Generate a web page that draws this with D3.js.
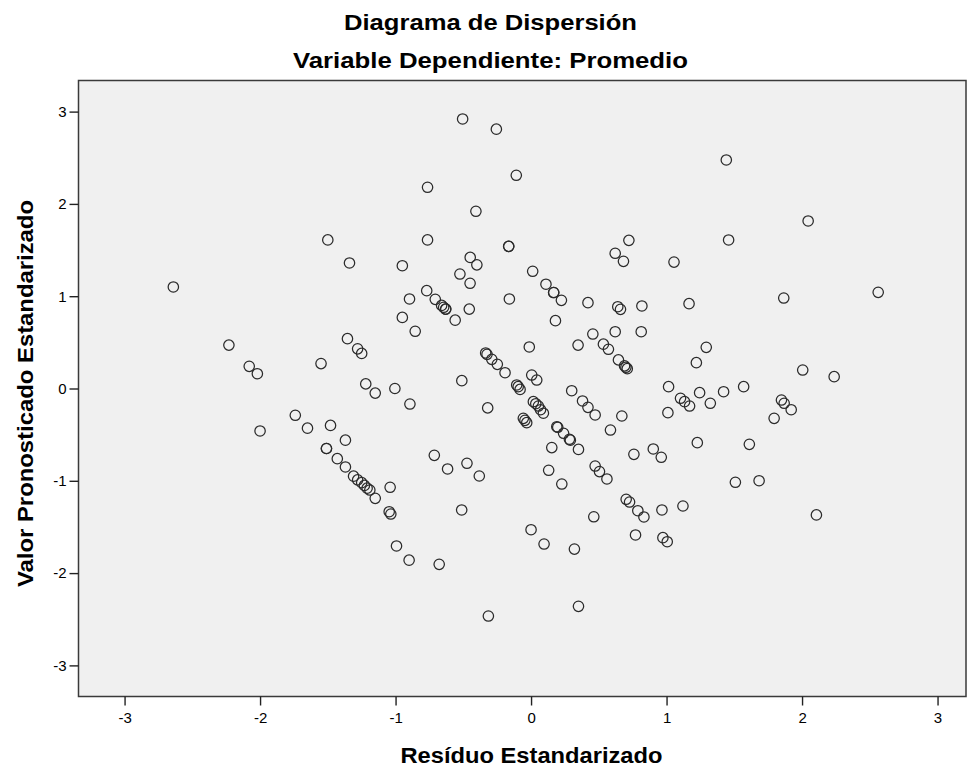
<!DOCTYPE html>
<html><head><meta charset="utf-8">
<script src="https://cdn.jsdelivr.net/npm/d3@7"></script>
<style>
body{margin:0;background:#fff;}
text{font-family:"Liberation Sans",Arial,sans-serif;fill:#000;}
</style>
</head><body>
<svg id="chart" width="971" height="770"></svg>
<script>
const title = "Diagrama de Dispersión";
const subtitle = "Variable Dependiente: Promedio";
const xLabel = "Resíduo Estandarizado";
const yLabel = "Valor Pronosticado Estandarizado";
const xTicks = [-3, -2, -1, 0, 1, 2, 3];
const yTicks = [-3, -2, -1, 0, 1, 2, 3];

// Standardized residual (x) and standardized predicted value (y), paired by index
const residuals = [
  -2.64,-2.23,-2.08,-2.02,-2.00,-1.74,-1.65,-1.55,-1.50,-1.48,-1.51,-1.51,-1.43,-1.37,-1.37,-1.34,-1.355,-1.28,-1.25,-1.31,
  -1.28,-1.25,-1.23,-1.21,-1.19,-1.15,-1.22,-1.15,
  -1.005,-0.894,-0.95,-0.897,-0.95,-0.855,-0.77,-0.707,-0.66,-0.645,-0.63,-0.63,-0.56,-0.764,-0.764,-0.525,-0.505,-0.511,
  -1.04,-1.047,-1.035,-0.993,-0.90,-0.678,-0.714,-0.616,-0.512,
  -0.449,-0.40,-0.45,-0.456,-0.407,-0.256,-0.109,-0.165,-0.165,-0.16,-0.473,-0.382,-0.32,-0.315,
  -0.335,-0.325,-0.29,-0.249,-0.192,-0.013,0.005,0.042,-0.106,-0.095,-0.081,0.017,0.035,0.054,0.07,0.091,-0.057,-0.045,-0.032,
  0.012,0.11,0.167,0.167,0.224,0.42,0.18,0.347,0.456,0.534,0.571,0.645,0.69,0.70,0.71,0.30,0.38,0.42,0.473,
  0.19,0.197,0.24,0.283,0.29,0.35,0.153,0.13,0.227,0.473,0.505,0.56,0.463,0.0,0.096,0.32,0.35,
  0.722,0.621,0.682,1.055,0.64,0.66,0.818,1.166,0.621,0.813,0.67,0.586,1.01,1.015,0.759,0.902,0.961,
  0.702,0.727,0.788,0.833,0.966,1.121,0.771,0.973,1.005,
  1.441,2.045,1.458,1.865,1.293,1.22,2.005,1.103,1.133,1.17,1.244,1.323,1.421,1.569,1.848,1.868,1.92,
  1.227,1.611,1.508,1.683,1.794,2.106,2.562,2.237
];
const predicted = [
  1.10,0.47,0.24,0.16,-0.46,-0.29,-0.43,0.27,1.61,-0.40,-0.65,-0.65,-0.76,-0.56,-0.85,1.36,0.54,0.43,0.38,-0.95,
  -0.99,-1.02,-1.05,-1.08,-1.10,-1.19,0.05,-0.05,
  0.0,-0.168,1.33,0.97,0.77,0.62,1.06,0.966,0.90,0.88,0.86,0.86,0.74,2.18,1.61,1.24,2.92,0.085,
  -1.07,-1.335,-1.36,-1.706,-1.86,-1.905,-0.724,-0.872,-1.316,
  1.42,1.34,1.14,0.86,1.92,2.81,2.31,1.54,1.54,0.97,-0.81,-0.948,-0.21,-2.465,
  0.385,0.37,0.316,0.262,0.171,0.45,0.146,0.092,0.038,0.02,-0.01,-0.143,-0.165,-0.19,-0.23,-0.268,-0.323,-0.345,-0.37,
  1.27,1.13,1.04,1.04,0.955,0.93,0.735,0.47,0.59,0.48,0.425,0.31,0.245,0.23,0.215,-0.024,-0.135,-0.204,-0.287,
  -0.414,-0.42,-0.485,-0.55,-0.56,-0.66,-0.64,-0.886,-1.035,-0.84,-0.90,-0.98,-1.39,-1.53,-1.685,-1.74,-2.36,
  1.605,1.465,1.378,1.37,0.886,0.858,0.894,0.919,0.615,0.615,-0.298,-0.45,-0.262,0.02,-0.713,-0.655,-0.745,
  -1.2,-1.23,-1.324,-1.392,-1.316,-1.273,-1.587,-1.616,-1.66,
  2.476,1.815,1.609,0.98,0.446,0.28,0.2,-0.106,-0.143,-0.19,-0.045,-0.16,-0.035,0.02,-0.125,-0.16,-0.23,
  -0.587,-0.605,-1.016,-0.999,-0.323,-1.37,1.042,0.128
];

const points = residuals.map((r, i) => ({x: r, y: predicted[i]}));

const svg = d3.select("#chart");
const plot = {left: 78.5, right: 966, top: 80.5, bottom: 696.5};

const x = d3.scaleLinear().domain([-3.34, 3.21]).range([plot.left, plot.right]);
const y = d3.scaleLinear().domain([-3.337, 3.337]).range([plot.bottom, plot.top]);

// plot background
svg.append("rect")
  .attr("x", plot.left).attr("y", plot.top)
  .attr("width", plot.right - plot.left).attr("height", plot.bottom - plot.top)
  .attr("fill", "#f0f0f0");

// points
svg.append("g").selectAll("circle").data(points).join("circle")
  .attr("cx", d => x(d.x)).attr("cy", d => y(d.y))
  .attr("r", 5.2)
  .attr("fill", "none")
  .attr("stroke", "#2b2b2b")
  .attr("stroke-width", 1.25);

// frame
svg.append("rect")
  .attr("x", plot.left).attr("y", plot.top)
  .attr("width", plot.right - plot.left).attr("height", plot.bottom - plot.top)
  .attr("fill", "none").attr("stroke", "#3a3a3a").attr("stroke-width", 1.5);

// axes (hyphen-minus labels like the original)
const fmt = d => String(d);
const xAxis = svg.append("g").attr("transform", `translate(0,${plot.bottom})`)
  .call(d3.axisBottom(x).tickValues(xTicks).tickSize(9).tickPadding(7).tickFormat(fmt));
const yAxis = svg.append("g").attr("transform", `translate(${plot.left},0)`)
  .call(d3.axisLeft(y).tickValues(yTicks).tickSize(9).tickPadding(3).tickFormat(fmt));
[xAxis, yAxis].forEach(a => {
  a.select(".domain").remove();
  a.selectAll(".tick line").attr("stroke", "#222").attr("stroke-width", 1.4);
  a.selectAll(".tick text").attr("font-family", "'Liberation Sans', Arial, sans-serif")
    .attr("font-size", 15).attr("fill", "#000");
});

// titles
svg.append("text").attr("x", 490.5).attr("y", 30).attr("text-anchor", "middle")
  .attr("font-size", 22).attr("font-weight", "bold")
  .attr("textLength", 293).attr("lengthAdjust", "spacingAndGlyphs").text(title);
svg.append("text").attr("x", 490.5).attr("y", 68).attr("text-anchor", "middle")
  .attr("font-size", 22).attr("font-weight", "bold")
  .attr("textLength", 395).attr("lengthAdjust", "spacingAndGlyphs").text(subtitle);

// axis labels
svg.append("text").attr("x", 531.5).attr("y", 763).attr("text-anchor", "middle")
  .attr("font-size", 22).attr("font-weight", "bold")
  .attr("textLength", 262).attr("lengthAdjust", "spacingAndGlyphs").text(xLabel);
svg.append("text").attr("transform", "translate(33,393.5) rotate(-90)").attr("text-anchor", "middle")
  .attr("font-size", 22).attr("font-weight", "bold")
  .attr("textLength", 387).attr("lengthAdjust", "spacingAndGlyphs").text(yLabel);
</script>
</body></html>
